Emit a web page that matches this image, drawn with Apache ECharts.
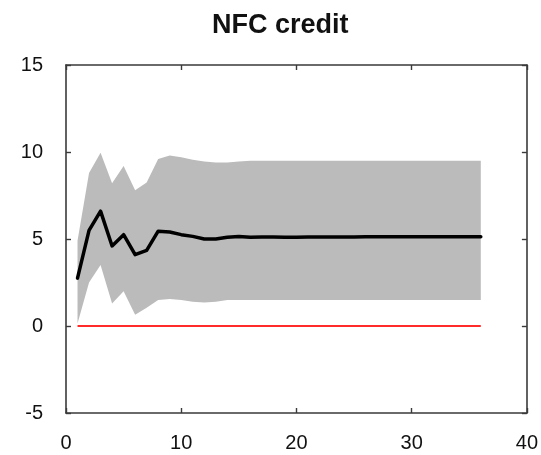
<!DOCTYPE html>
<html>
<head>
<meta charset="utf-8">
<script src="https://cdn.jsdelivr.net/npm/echarts@6/dist/echarts.min.js"></script>
<style>html,body{margin:0;padding:0;background:#fff}#c{width:541px;height:455px}</style>
</head>
<body>
<div id="c"></div>
<script>
var horizons = [1,2,3,4,5,6,7,8,9,10,11,12,13,14,15,16,17,18,19,20,21,22,23,24,25,26,27,28,29,30,31,32,33,34,35,36];
var median = [2.75,5.5,6.6,4.6,5.25,4.1,4.35,5.45,5.4,5.25,5.15,5.0,5.0,5.1,5.15,5.1,5.12,5.12,5.1,5.1,5.12,5.12,5.12,5.12,5.12,5.13,5.13,5.13,5.13,5.13,5.13,5.13,5.13,5.13,5.13,5.13];
var lower = [0.15,2.5,3.5,1.3,2.0,0.65,1.05,1.5,1.55,1.5,1.4,1.35,1.4,1.5,1.5,1.5,1.5,1.5,1.5,1.5,1.5,1.5,1.5,1.5,1.5,1.5,1.5,1.5,1.5,1.5,1.5,1.5,1.5,1.5,1.5,1.5];
var upper = [4.9,8.8,9.95,8.2,9.2,7.8,8.25,9.6,9.8,9.7,9.55,9.45,9.4,9.4,9.45,9.5,9.5,9.5,9.5,9.5,9.5,9.5,9.5,9.5,9.5,9.5,9.5,9.5,9.5,9.5,9.5,9.5,9.5,9.5,9.5,9.5];
var zeroLine = [0,0,0,0,0,0,0,0,0,0,0,0,0,0,0,0,0,0,0,0,0,0,0,0,0,0,0,0,0,0,0,0,0,0,0,0];
var xTicks = [0,10,20,30,40];
var yTicks = [-5,0,5,10,15];

function pairs(ys){ return horizons.map(function(x,i){ return [x, ys[i]]; }); }
var bandData = horizons.map(function(x,i){ return [x, lower[i], upper[i]]; });

var axisLineStyle = {show:true, onZero:false, lineStyle:{color:'#3a3a3a', width:1.6}};
var tickStyle = {show:true, inside:true, length:5, lineStyle:{color:'#3a3a3a', width:1.4}};
var labelStyle = {color:'#111', fontSize:20, fontFamily:'Liberation Sans, Arial, sans-serif'};

var chart = echarts.init(document.getElementById('c'), null, {renderer:'canvas'});
chart.setOption({
  animation:false,
  backgroundColor:'#fff',
  title:{text:'NFC credit', left:207, top:7,
    textStyle:{fontSize:27, fontWeight:'bold', color:'#111', fontFamily:'Liberation Sans, Arial, sans-serif'}},
  grid:{left:66, right:9, top:65, bottom:42, containLabel:false},
  xAxis:[
    {type:'value', min:xTicks[0], max:xTicks[xTicks.length-1], interval:10, position:'bottom',
     axisLine:axisLineStyle, axisTick:tickStyle, splitLine:{show:false},
     axisLabel:Object.assign({margin:20}, labelStyle)},
    {type:'value', min:xTicks[0], max:xTicks[xTicks.length-1], interval:10, position:'top',
     axisLine:axisLineStyle, axisTick:tickStyle, splitLine:{show:false}, axisLabel:{show:false}}
  ],
  yAxis:[
    {type:'value', min:yTicks[0], max:yTicks[yTicks.length-1], interval:5, position:'left',
     axisLine:axisLineStyle, axisTick:tickStyle, splitLine:{show:false},
     axisLabel:Object.assign({margin:23}, labelStyle)},
    {type:'value', min:yTicks[0], max:yTicks[yTicks.length-1], interval:5, position:'right',
     axisLine:axisLineStyle, axisTick:tickStyle, splitLine:{show:false}, axisLabel:{show:false}}
  ],
  series:[
    {type:'custom', data:bandData, silent:true, z:1,
     encode:{x:0, y:[1,2]},
     renderItem:function(params, api){
       if (params.dataIndex !== 0) return null;
       var pts = [];
       for (var i = 0; i < bandData.length; i++) pts.push(api.coord([bandData[i][0], bandData[i][2]]));
       for (var j = bandData.length - 1; j >= 0; j--) pts.push(api.coord([bandData[j][0], bandData[j][1]]));
       return {type:'polygon', shape:{points:pts}, style:{fill:'#bbbbbb', stroke:null}};
     }},
    {type:'line', data:pairs(zeroLine), symbol:'none', lineStyle:{color:'#ff2a2a', width:2}, z:2},
    {type:'line', data:pairs(median), symbol:'none', lineStyle:{color:'#000', width:3.5, join:'round', cap:'round'}, z:3}
  ]
});
</script>
</body>
</html>
